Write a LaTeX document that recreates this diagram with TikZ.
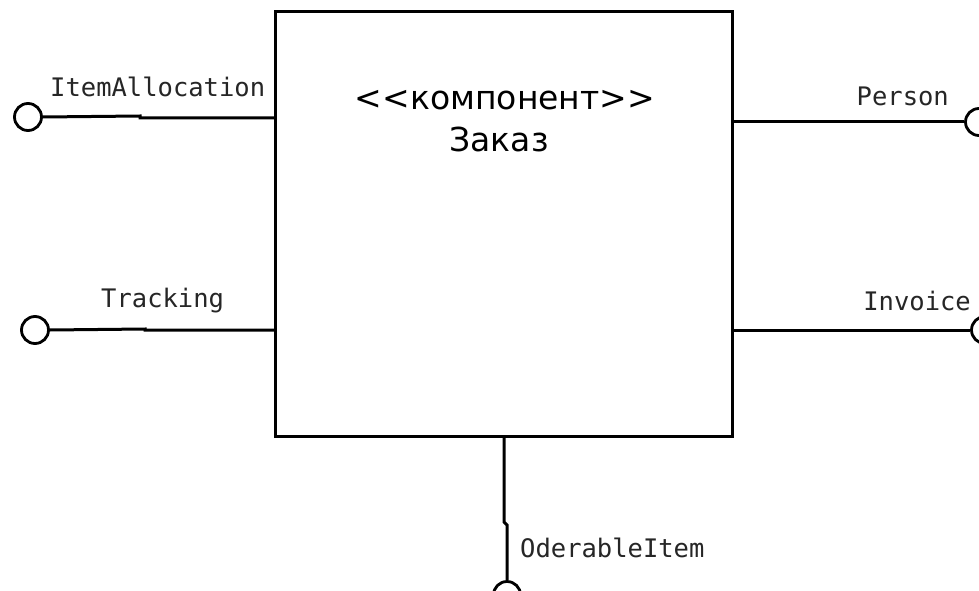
\documentclass[tikz,border=0pt]{standalone}
\usepackage{fontspec}
\setmainfont{DejaVu Sans}
\newfontfamily\portfont{DejaVu Sans Mono}
\begin{document}
\begin{tikzpicture}[x=1pt,y=-1pt,
  wire/.style={line width=3pt},
  comp/.style={draw,line width=3pt,inner sep=0pt,minimum width=457pt,minimum height=424pt},
  iface/.style={circle,draw,line width=2.8pt,inner sep=0pt,minimum size=27pt},
  portlabel/.style={font=\portfont\fontsize{25.5}{28}\selectfont,inner sep=0pt,text=black!85}]
\useasboundingbox (0,0) rectangle (979,591);
\fill[white] (0,0) rectangle (979,591);

% component body
\node[comp] (order) at (503.5,224) {};
\node[font=\fontsize{33}{40}\selectfont,align=center,inner sep=0pt] (title) at (505,121)
  {<{}<компонент>{}>\\[2pt]\hspace*{-12pt}Заказ};

% provided interfaces
\node[iface] (ia) at (28,117) {};
\node[iface] (tr) at (35,330) {};
\node[iface] (pe) at (979,122) {};
\node[iface] (in) at (985,330) {};
\node[iface] (oi) at (507,595) {};

\coordinate (iaA) at (275,118);
\coordinate (trA) at (275,330);
\coordinate (peA) at (732,122);
\coordinate (inA) at (732,330);
\coordinate (oiA) at (504,436);

\draw[wire] (ia.east) -- (140,116) -- (140,118) -- (iaA);
\draw[wire] (tr.east) -- (145,329) -- (145,330) -- (trA);
\draw[wire] (peA) -- (pe.west);
\draw[wire] (inA) -- (in.west);
\draw[wire] (oiA) -- (504,522) -- (507,525) -- (oi.north);

% interface names
\node[portlabel,anchor=base west] (iaL) at (50,97) {ItemAllocation};
\node[portlabel,anchor=base west] (trL) at (101,307) {Tracking};
\node[portlabel,anchor=base east] (peL) at (949,106) {Person};
\node[portlabel,anchor=base east] (inL) at (971,310) {Invoice};
\node[portlabel,anchor=base west] (oiL) at (520,557) {OderableItem};
\end{tikzpicture}
\end{document}
